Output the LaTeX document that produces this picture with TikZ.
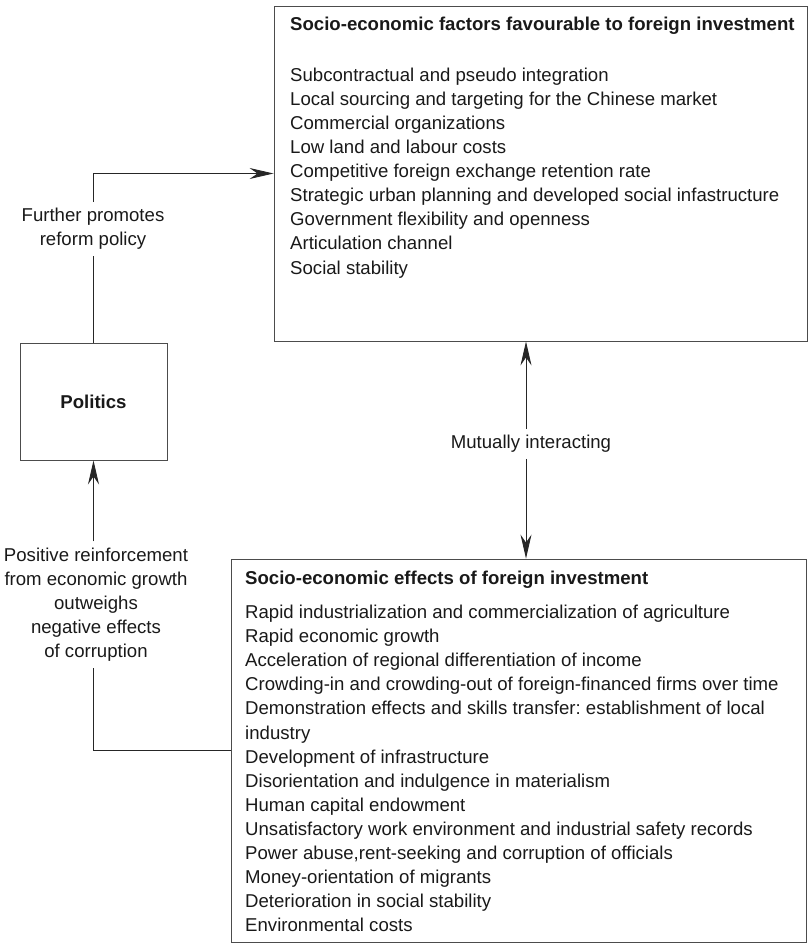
\documentclass[tikz,border=0pt]{standalone}
\usepackage{fontspec}
\setmainfont{Liberation Sans}
\usetikzlibrary{arrows.meta}
\frenchspacing
\begin{document}
\begin{tikzpicture}[x=1pt,y=-1pt,
  txt/.style={font=\fontsize{18.6}{24.1}\selectfont, text=black!90},
  boxs/.style={draw=black!70, line width=0.9pt, inner sep=0pt},
  conn/.style={draw=black!85, line width=0.9pt},
  arr/.style={conn, -{Stealth[length=24pt,width=11pt,inset=8pt]}},
  lbl/.style={txt, align=center, inner sep=6pt},
  listtxt/.style={txt, align=left, anchor=north west, inner sep=0pt}]
\useasboundingbox (0,0) rectangle (809,944);
% boxes
\node[boxs, minimum width=533pt, minimum height=335pt] (top) at (540.5,173.5) {};
\node[boxs, minimum width=575pt, minimum height=383pt] (bot) at (518.5,750.5) {};
\node[boxs, txt, minimum width=147pt, minimum height=117pt] (pol) at (93.5,401.5) {\textbf{Politics}};
% box texts
\node[listtxt] (toptext) at (290,16) {\rule{0pt}{14pt}\textbf{Socio-economic factors favourable to foreign investment}\\[26.9pt]
Subcontractual and pseudo integration\\
Local sourcing and targeting for the Chinese market\\
Commercial organizations\\
Low land and labour costs\\
Competitive foreign exchange retention rate\\
Strategic urban planning and developed social infastructure\\
Government flexibility and openness\\
Articulation channel\\
Social stability};
\node[listtxt] (bottext) at (245,570.6) {\rule{0pt}{14pt}\textbf{Socio-economic effects of foreign investment}\\[9.6pt]
Rapid industrialization and commercialization of agriculture\\
Rapid economic growth\\
Acceleration of regional differentiation of income\\
Crowding-in and crowding-out of foreign-financed firms over time\\
Demonstration effects and skills transfer: establishment of local\\
industry\\
Development of infrastructure\\
Disorientation and indulgence in materialism\\
Human capital endowment\\
Unsatisfactory work environment and industrial safety records\\
Power abuse,rent-seeking and corruption of officials\\
Money-orientation of migrants\\
Deterioration in social stability\\
Environmental costs};
% labels
\node[lbl] (lab1) at (93,229) {Further promotes\\reform policy};
\node[lbl] (mut) at (531,444) {Mutually interacting};
\node[lbl] (lab3) at (96,604.5) {Positive reinforcement\\from economic growth\\outweighs\\negative effects\\of corruption};
\coordinate (mx) at (526,0);
% connectors
\draw[conn] (pol.north) -- (pol.north |- lab1.south);
\draw[arr] (pol.north |- lab1.north) |- (top.west);
\draw[arr] (mx |- mut.north) -- (mx |- top.south);
\draw[arr] (mx |- mut.south) -- (mx |- bot.north);
\draw[conn] (bot.west) -| (pol.south |- lab3.south);
\draw[arr] (pol.south |- lab3.north) -- (pol.south);
\end{tikzpicture}
\end{document}
